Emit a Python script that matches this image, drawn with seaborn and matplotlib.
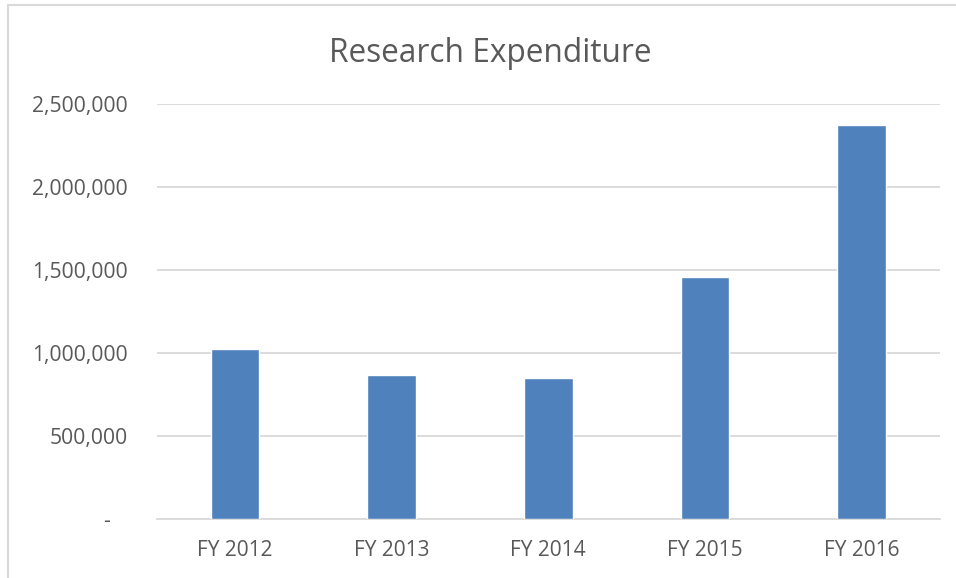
import matplotlib
matplotlib.use("Agg")
import matplotlib.pyplot as plt
import matplotlib.ticker as mticker
from matplotlib.patches import Rectangle
import pandas as pd
import seaborn as sns

# Chart data
years = ["FY 2012", "FY 2013", "FY 2014", "FY 2015", "FY 2016"]
expenditure = [1022000, 867000, 849000, 1460000, 2373000]
y_ticks = [0, 500000, 1000000, 1500000, 2000000, 2500000]

df = pd.DataFrame({"year": years, "expenditure": expenditure})

sns.set_style("white")
plt.rcParams["font.family"] = ["Open Sans", "DejaVu Sans"]

text_color = "#595959"
grid_color = "#D9D9D9"
bar_color = "#4F81BD"

fig = plt.figure(figsize=(9.56, 5.78), dpi=100)
ax = fig.add_axes([0.164, 0.102, 0.819, 0.718])

sns.barplot(data=df, x="year", y="expenditure", color=bar_color,
            width=0.31, saturation=1, ax=ax, zorder=3)

ax.set_ylim(0, 2500000)
ax.set_yticks(y_ticks)
ax.yaxis.set_major_formatter(mticker.FuncFormatter(
    lambda v, p: "-   " if v == 0 else f"{int(v):,}"))
ax.grid(axis="y", color=grid_color, linewidth=1.3, zorder=0)
ax.set_xlim(-0.5, 4.5)

for s in ["left", "right", "top"]:
    ax.spines[s].set_visible(False)
ax.spines["bottom"].set_color(grid_color)
ax.spines["bottom"].set_linewidth(1.3)

ax.tick_params(axis="y", length=0, pad=21, labelsize=15.2, labelcolor=text_color)
ax.tick_params(axis="x", length=0, pad=15, labelsize=15, labelcolor=text_color)
ax.set_xlabel("")
ax.set_ylabel("")

fig.text(0.513, 0.907, "Research Expenditure", ha="center", va="center",
         fontsize=22.8, color=text_color)

# chart area border (partly cropped in the original)
fig.patches.append(Rectangle((8 / 956, -0.05), 1.2, 1 - 5 / 578 + 0.05,
                             transform=fig.transFigure, fill=False,
                             edgecolor=grid_color, linewidth=1.5))

fig.savefig("out.png", dpi=100)
